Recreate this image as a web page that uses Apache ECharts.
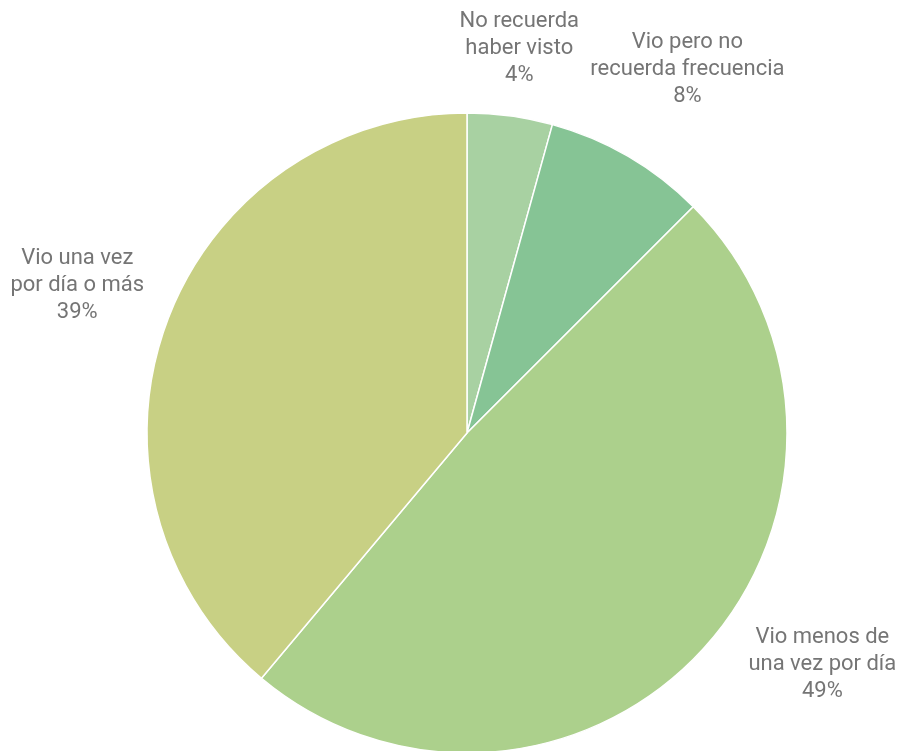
<!DOCTYPE html>
<html><head><meta charset="utf-8">
<script src="https://cdn.jsdelivr.net/npm/echarts@6/dist/echarts.min.js"></script>
<style>html,body{margin:0;padding:0;background:#fff}#c{width:907px;height:751px}</style>
</head><body><div id="c"></div>
<script>
const categories = ['No recuerda\nhaber visto', 'Vio pero no\nrecuerda frecuencia', 'Vio menos de\nuna vez por día', 'Vio una vez\npor día o más'];
const values = [4.3, 8.2, 48.6, 38.9];
const colors = ['#a8d1a2', '#86c495', '#acd08c', '#c8d084'];

const W = 907, H = 751;
const CX = 467, CY = 433, R = 320, GAP = 20;
const FONT_SIZE = 22, LINE_H = 27, FONT = 'Roboto';
const BOUNDS = {left: 10, right: 904, top: 5, bottom: 705};
const PAD = 10;

const total = values.reduce((a, b) => a + b, 0);
const pcts = values.map(v => Math.round(v / total * 100));
const labelTexts = categories.map((c, i) => c + '\n' + pcts[i] + '%');

const ctx = document.createElement('canvas').getContext('2d');
ctx.font = FONT_SIZE + 'px ' + FONT;
function boxSize(t) {
  const lines = t.split('\n');
  return {w: Math.max(...lines.map(l => ctx.measureText(l).width)), h: lines.length * LINE_H};
}
function midAngle(i) {
  let cum = 0; for (let k = 0; k < i; k++) cum += values[k];
  return (cum + values[i] / 2) / total * Math.PI * 2;
}
function place(a, sz) {
  const s = Math.sin(a), c = Math.cos(a);
  const rr = R + GAP + Math.abs(s) * sz.w / 2 + Math.abs(c) * sz.h / 2;
  const x = CX + s * rr, y = CY - c * rr;
  return {x, y, x0: x - sz.w / 2, x1: x + sz.w / 2, y0: y - sz.h / 2, y1: y + sz.h / 2};
}
function ok(b, placed) {
  if (b.x0 < BOUNDS.left || b.x1 > BOUNDS.right || b.y0 < BOUNDS.top || b.y1 > BOUNDS.bottom) return false;
  for (const p of placed) {
    if (b.x0 < p.x1 + PAD && b.x1 + PAD > p.x0 && b.y0 < p.y1 && b.y1 > p.y0) return false;
  }
  return true;
}
const positions = [];
labelTexts.forEach((t, i) => {
  const sz = boxSize(t), a0 = midAngle(i);
  let best = place(a0, sz);
  for (let k = 0; k <= 300; k++) {
    const d = k * 0.2 * Math.PI / 180;
    const c1 = place(a0 + d, sz), c2 = place(a0 - d, sz);
    if (ok(c1, positions)) { best = c1; break; }
    if (ok(c2, positions)) { best = c2; break; }
  }
  positions.push(best);
});

const chart = echarts.init(document.getElementById('c'), null, {renderer: 'canvas'});
chart.setOption({
  animation: false,
  series: [{
    type: 'pie',
    center: [CX, CY],
    radius: R,
    startAngle: 90,
    clockwise: true,
    data: categories.map((c, i) => ({name: c, value: values[i], itemStyle: {color: colors[i]}})),
    itemStyle: {borderColor: '#fff', borderWidth: 1.5},
    emphasis: {disabled: true},
    label: {
      show: true, position: 'outside', overflow: 'none', alignTo: 'none',
      formatter: p => labelTexts[p.dataIndex],
      color: '#757575', fontFamily: FONT, fontSize: FONT_SIZE, lineHeight: LINE_H, align: 'center'
    },
    labelLine: {show: false},
    labelLayout: function (p) {
      const b = positions[p.dataIndex];
      return {x: b.x, y: b.y, align: 'center', verticalAlign: 'middle', hideOverlap: false};
    }
  }]
});
</script></body></html>
